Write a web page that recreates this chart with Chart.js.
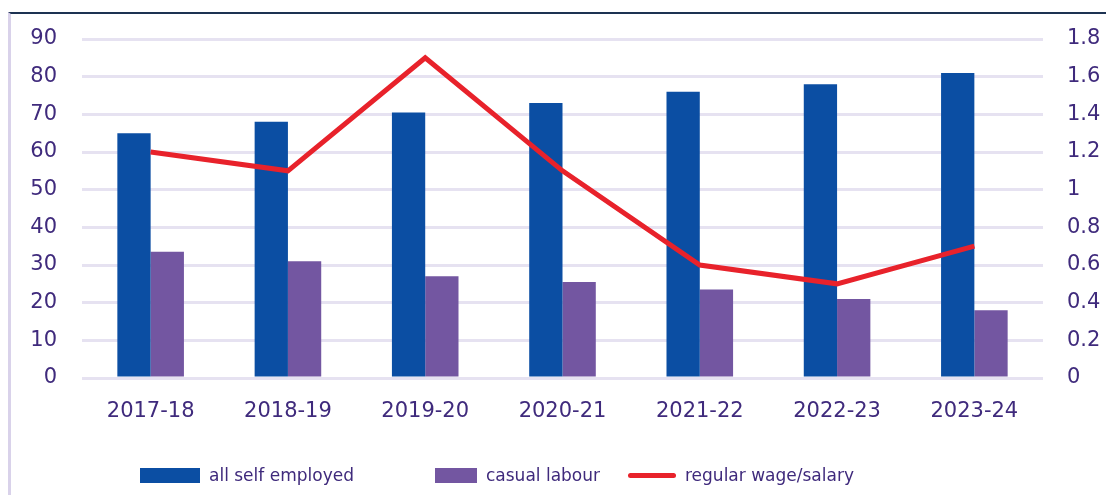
<!DOCTYPE html>
<html>
<head>
<meta charset="utf-8">
<script src="https://cdn.jsdelivr.net/npm/chart.js@4.4.1/dist/chart.umd.min.js"></script>
<style>
  html, body { margin: 0; padding: 0; background: #ffffff; }
  #wrap { position: relative; width: 1106px; height: 495px; }
  #grafico { position: absolute; left: 0; top: 0; }
  #frame {
    position: absolute; left: 8px; top: 12px; right: 0; bottom: 0;
    border-top: 2px solid #1d3352; border-left: 3px solid #d9d2ea;
    pointer-events: none;
  }
  .itemLegenda {
    position: absolute; top: 463px; height: 24px;
    display: flex; align-items: center;
    font-family: 'DejaVu Sans', sans-serif; font-size: 17px; color: #3f2a7c;
    white-space: nowrap;
  }
  .itemLegenda span.cor { display: inline-block; margin-right: 9px; }
</style>
</head>
<body>
<div id="wrap">
  <canvas id="grafico" width="1106" height="495"></canvas>
  <div id="frame"></div>
  <div id="legenda"></div>
</div>
<script>
var anos = ["2017-18", "2018-19", "2019-20", "2020-21", "2021-22", "2022-23", "2023-24"];
var autonomos = [65, 68, 70.5, 73, 76, 78, 81];
var casuais = [33.5, 31, 27, 25.5, 23.5, 21, 18];
var salariados = [1.2, 1.1, 1.7, 1.1, 0.6, 0.5, 0.7];

var corTexto = "#3f2a7c";
var fonte = "'DejaVu Sans', sans-serif";

const data = {
    labels: anos,
    datasets: [{
        label: "all self employed",
        type: "bar",
        data: autonomos,
        backgroundColor: "#0b4ea3",
        borderWidth: 0,
        yAxisID: "y",
        order: 1,
        categoryPercentage: 0.485,
        barPercentage: 1.0
    }, {
        label: "casual labour",
        type: "bar",
        data: casuais,
        backgroundColor: "#7356a1",
        borderWidth: 0,
        yAxisID: "y",
        order: 1,
        categoryPercentage: 0.485,
        barPercentage: 1.0
    }, {
        label: "regular wage/salary",
        type: "line",
        data: salariados,
        borderColor: "#e8222b",
        backgroundColor: "#e8222b",
        borderWidth: 5,
        pointRadius: 0,
        tension: 0,
        yAxisID: "y1",
        order: 0
    }]
};

const config = {
    data: data,
    options: {
        responsive: false,
        animation: false,
        layout: { padding: { top: 39, left: 0, right: 0, bottom: 0 } },
        plugins: {
            tooltip: { enabled: false },
            legend: { display: false }
        },
        scales: {
            x: {
                grid: { display: false, drawTicks: false },
                border: { display: false },
                ticks: { color: corTexto, font: { family: fonte, size: 21 }, padding: 21, maxRotation: 0 },
                afterFit: function (s) { s.height = 117; }
            },
            y: {
                position: "left",
                min: 0,
                max: 90,
                ticks: { stepSize: 10, color: corTexto, font: { family: fonte, size: 21 }, padding: 25 },
                grid: { color: "#e6e2f1", lineWidth: 3, drawTicks: false },
                border: { display: false },
                afterFit: function (s) { s.width = 82; }
            },
            y1: {
                position: "right",
                min: 0,
                max: 1.8,
                ticks: {
                    stepSize: 0.2,
                    color: corTexto,
                    font: { family: fonte, size: 21 },
                    padding: 24,
                    callback: function (v) { return String(+v.toFixed(1)); }
                },
                grid: { display: false, drawTicks: false },
                border: { display: false },
                afterFit: function (s) { s.width = 63; }
            }
        }
    }
};

var myChart = new Chart(document.querySelector("#grafico"), config);

// legenda montada a partir dos datasets
var legenda = document.querySelector("#legenda");
var posLegenda = [140, 435, 628];
var larguraCor = [60, 42, 48];
myChart.data.datasets.forEach(function (ds, i) {
    var item = document.createElement("div");
    item.className = "itemLegenda";
    item.style.left = posLegenda[i] + "px";
    var cor = document.createElement("span");
    cor.className = "cor";
    cor.style.width = larguraCor[i] + "px";
    if (ds.type === "line") {
        cor.style.height = "5px";
        cor.style.borderRadius = "3px";
        cor.style.backgroundColor = ds.borderColor;
    } else {
        cor.style.height = "15px";
        cor.style.backgroundColor = ds.backgroundColor;
    }
    var txt = document.createElement("span");
    txt.innerHTML = ds.label;
    item.append(cor);
    item.append(txt);
    legenda.append(item);
});
</script>
</body>
</html>
